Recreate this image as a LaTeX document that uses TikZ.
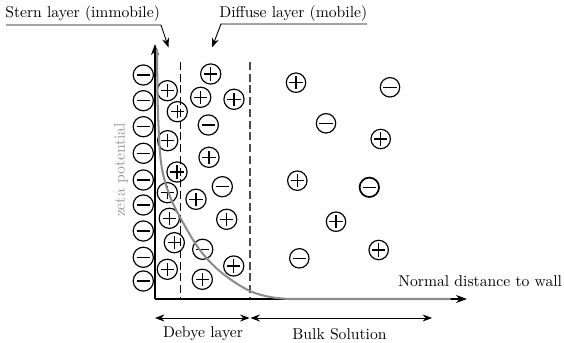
\documentclass[tikz,border=0pt]{standalone}
\usetikzlibrary{arrows.meta}
\begin{document}
\begin{tikzpicture}[x=0.6383pt, y=-0.6383pt,
  ion/.style={circle, draw, line width=0.75pt, minimum size=12.9pt, inner sep=0pt},
  bion/.style={ion, minimum size=12.4pt},
  plusmark/.style={path picture={\draw[line width=0.75pt]
      ([xshift=-4.2pt]path picture bounding box.center) -- ([xshift=4.2pt]path picture bounding box.center)
      ([yshift=-4.2pt]path picture bounding box.center) -- ([yshift=4.2pt]path picture bounding box.center);}},
  minusmark/.style={path picture={\draw[line width=0.75pt]
      ([xshift=-4.2pt]path picture bounding box.center) -- ([xshift=4.2pt]path picture bounding box.center);}},
  pion/.style={ion, plusmark},
  nion/.style={ion, minusmark},
  pbion/.style={bion, plusmark},
  nbion/.style={bion, minusmark},
  axis/.style={line width=1.3pt, -{Stealth[length=7pt,width=5pt]}},
  callout/.style={line width=0.6pt, draw=black, -{Stealth[length=6pt,width=4.5pt]}},
  dimarrow/.style={line width=0.6pt, {Stealth[length=6pt,width=4.5pt]}-{Stealth[length=6pt,width=4.5pt]}},
  lbl/.style={inner sep=0pt, font=\normalsize}
]
\useasboundingbox (0,0) rectangle (564,343);

% coordinates
\coordinate (O) at (155,299);
\coordinate (ytip) at (155,44);
\coordinate (xtip) at (467,299);

% dashed lines
\coordinate (d1t) at (180,62); \coordinate (d1b) at (180,299);
\coordinate (d2t) at (250,62); \coordinate (d2b) at (250,299);
\draw[line width=0.6pt, dash pattern=on 5pt off 2.5pt] (d1t) -- (d1b);
\draw[line width=0.9pt, draw=black!70, dash pattern=on 5pt off 2.5pt] (d2t) -- (d2b);

% Stern layer negative ions
\foreach \y [count=\i] in {75,100.7,126.7,153.3,180,205,231,257.3,281}
  \node[nion] (sn\i) at (143.3,\y) {};
% Stern layer positive ions
\foreach \x/\y [count=\i] in {167.3/90.7,177.3/111.7,167.7/140.7,177/172,167.3/192.7,169.3/218.3,174.3/242.7,167.3/269.3}
  \node[pion] (sp\i) at (\x,\y) {};
% Diffuse layer ions
\foreach \x/\y [count=\i] in {210.7/74,200.7/97.3,234/99.3,209/157.3,196/199.3,226.7/219.3,233.7/266,202.3/279.3}
  \node[pion] (dp\i) at (\x,\y) {};
\foreach \x/\y [count=\i] in {208.3/125,222.3/186.7,202.7/249.3}
  \node[nion] (dn\i) at (\x,\y) {};
% Bulk ions
\foreach \x/\y [count=\i] in {296/82.7,380.7/139,297.3/180.7,336/221.7,378.7/250}
  \node[pbion] (bp\i) at (\x,\y) {};
\foreach \x/\y [count=\i] in {390/87.3,326/123.3,299.3/258.3}
  \node[nbion] (bn\i) at (\x,\y) {};
\node[nbion, line width=1.1pt] (bn4) at (369.3,187.3) {};

% axes
\draw[axis] (O) -- (ytip);
\draw[axis] (O) -- (xtip);

% zeta potential curve
\draw[line width=1.3pt, draw=black!45, line cap=round]
  plot[smooth, tension=0.6] coordinates {(157,50) (157.6,100) (158.7,130) (160.5,158) (164,178) (171,199) (181,219) (197,246) (213,265) (230,279) (250,291) (270,297) (290,299)}
  -- (450,299);

% labels
\node[lbl, anchor=base west] (nd) at (398,286) {Normal distance to wall};
\node[lbl, rotate=90, text=black!40] (zeta) at (121,170) {zeta potential};

% Stern callout
\node[lbl, anchor=base west] (stern) at (5,18) {Stern layer (immobile)};
\coordinate (su1) at (6,25); \coordinate (su2) at (161,25); \coordinate (stip) at (168.5,47.5);
\draw[callout] (su1) -- (su2) -- (stip);

% Diffuse callout
\node[lbl, anchor=base west] (diff) at (219,18) {Diffuse layer (mobile)};
\coordinate (du1) at (367,24); \coordinate (du2) at (221,24); \coordinate (dtip) at (212,47.5);
\draw[callout] (du1) -- (du2) -- (dtip);

% bottom dimension arrows
\coordinate (b1) at (155,318); \coordinate (b2) at (249.5,318); \coordinate (b3) at (250.5,318); \coordinate (b4) at (432,318);
\draw[dimarrow] (b1) -- (b2);
\draw[dimarrow] (b3) -- (b4);
\node[lbl] (debye) at (203,334) {Debye layer};
\node[lbl] (bulk) at (339.5,334) {Bulk Solution};
\end{tikzpicture}
\end{document}
